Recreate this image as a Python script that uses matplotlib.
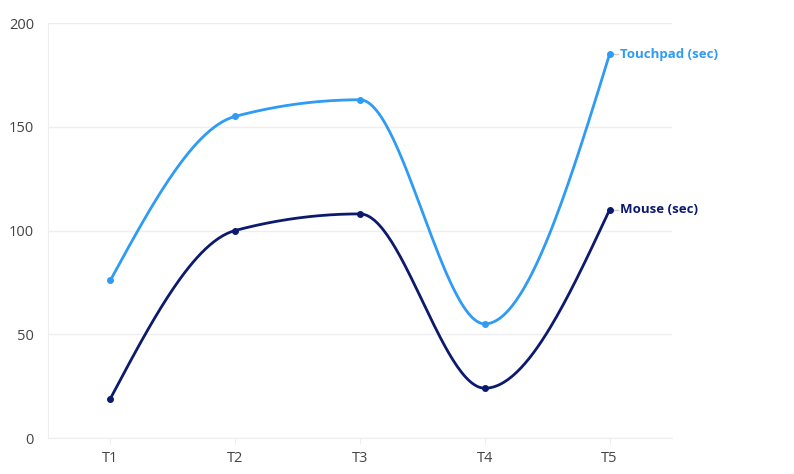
import numpy as np
import matplotlib
matplotlib.use('Agg')
import matplotlib.pyplot as plt

# Data
tasks = ['T1', 'T2', 'T3', 'T4', 'T5']
touchpad = [76, 155, 163, 55, 185]
mouse = [19, 100, 108, 24, 110]

touch_color = '#2f9bf4'
mouse_color = '#0c1a6e'


def monotone_curve(y, n=60):
    # d3 curveMonotoneX style smoothing between points
    y = np.asarray(y, dtype=float)
    x = np.arange(len(y), dtype=float)
    s = np.diff(y)
    t = np.zeros(len(y))
    for i in range(1, len(y) - 1):
        s0, s1 = s[i - 1], s[i]
        if s0 * s1 <= 0:
            t[i] = 0
        else:
            p = (s0 + s1) / 2
            t[i] = np.sign(s0) * min(abs(s0), abs(s1), 0.5 * abs(p)) * 2
    t[0] = (3 * s[0] - t[1]) / 2
    t[-1] = (3 * s[-1] - t[-2]) / 2
    xs, ys = [], []
    for i in range(len(y) - 1):
        u = np.linspace(0, 1, n)
        h00 = 2 * u**3 - 3 * u**2 + 1
        h10 = u**3 - 2 * u**2 + u
        h01 = -2 * u**3 + 3 * u**2
        h11 = u**3 - u**2
        ys.append(h00 * y[i] + h10 * t[i] + h01 * y[i + 1] + h11 * t[i + 1])
        xs.append(x[i] + u)
    return np.concatenate(xs), np.concatenate(ys)


fig = plt.figure(figsize=(7.94, 4.74), dpi=100)
ax = fig.add_axes([48 / 794, 36 / 474, 624 / 794, 415 / 474])

for vals, col, name in [(touchpad, touch_color, 'Touchpad (sec)'),
                        (mouse, mouse_color, 'Mouse (sec)')]:
    cx, cy = monotone_curve(vals)
    ax.plot(cx, cy, color=col, lw=2, solid_capstyle='round', zorder=3)
    ax.scatter(range(len(vals)), vals, s=16, color=col, zorder=4)
    ax.plot([4.03, 4.07], [vals[-1], vals[-1]], color='#cccccc', lw=1, zorder=2)
    ax.text(4.085, vals[-1], name, color=col, fontsize=9.5, fontweight='bold',
            family='Open Sans', va='center', ha='left', clip_on=False)

ax.set_xlim(-0.5, 4.5)
ax.set_ylim(0, 200)
ax.set_xticks(range(len(tasks)))
ax.set_xticklabels(tasks)
ax.set_yticks([0, 50, 100, 150, 200])
ax.grid(axis='y', color='#eeeeee', lw=1)
ax.set_axisbelow(True)
for side in ['top', 'right']:
    ax.spines[side].set_visible(False)
ax.spines['left'].set_color('#eeeeee')
ax.spines['bottom'].set_color('#eeeeee')
ax.tick_params(axis='x', length=4, color='#eeeeee', labelsize=10.5,
               labelcolor='#444444', pad=5)
ax.tick_params(axis='y', length=0, labelsize=10.5, labelcolor='#444444', pad=10)
for lab in ax.get_xticklabels() + ax.get_yticklabels():
    lab.set_family('Open Sans')

fig.savefig('out.png', dpi=100)
